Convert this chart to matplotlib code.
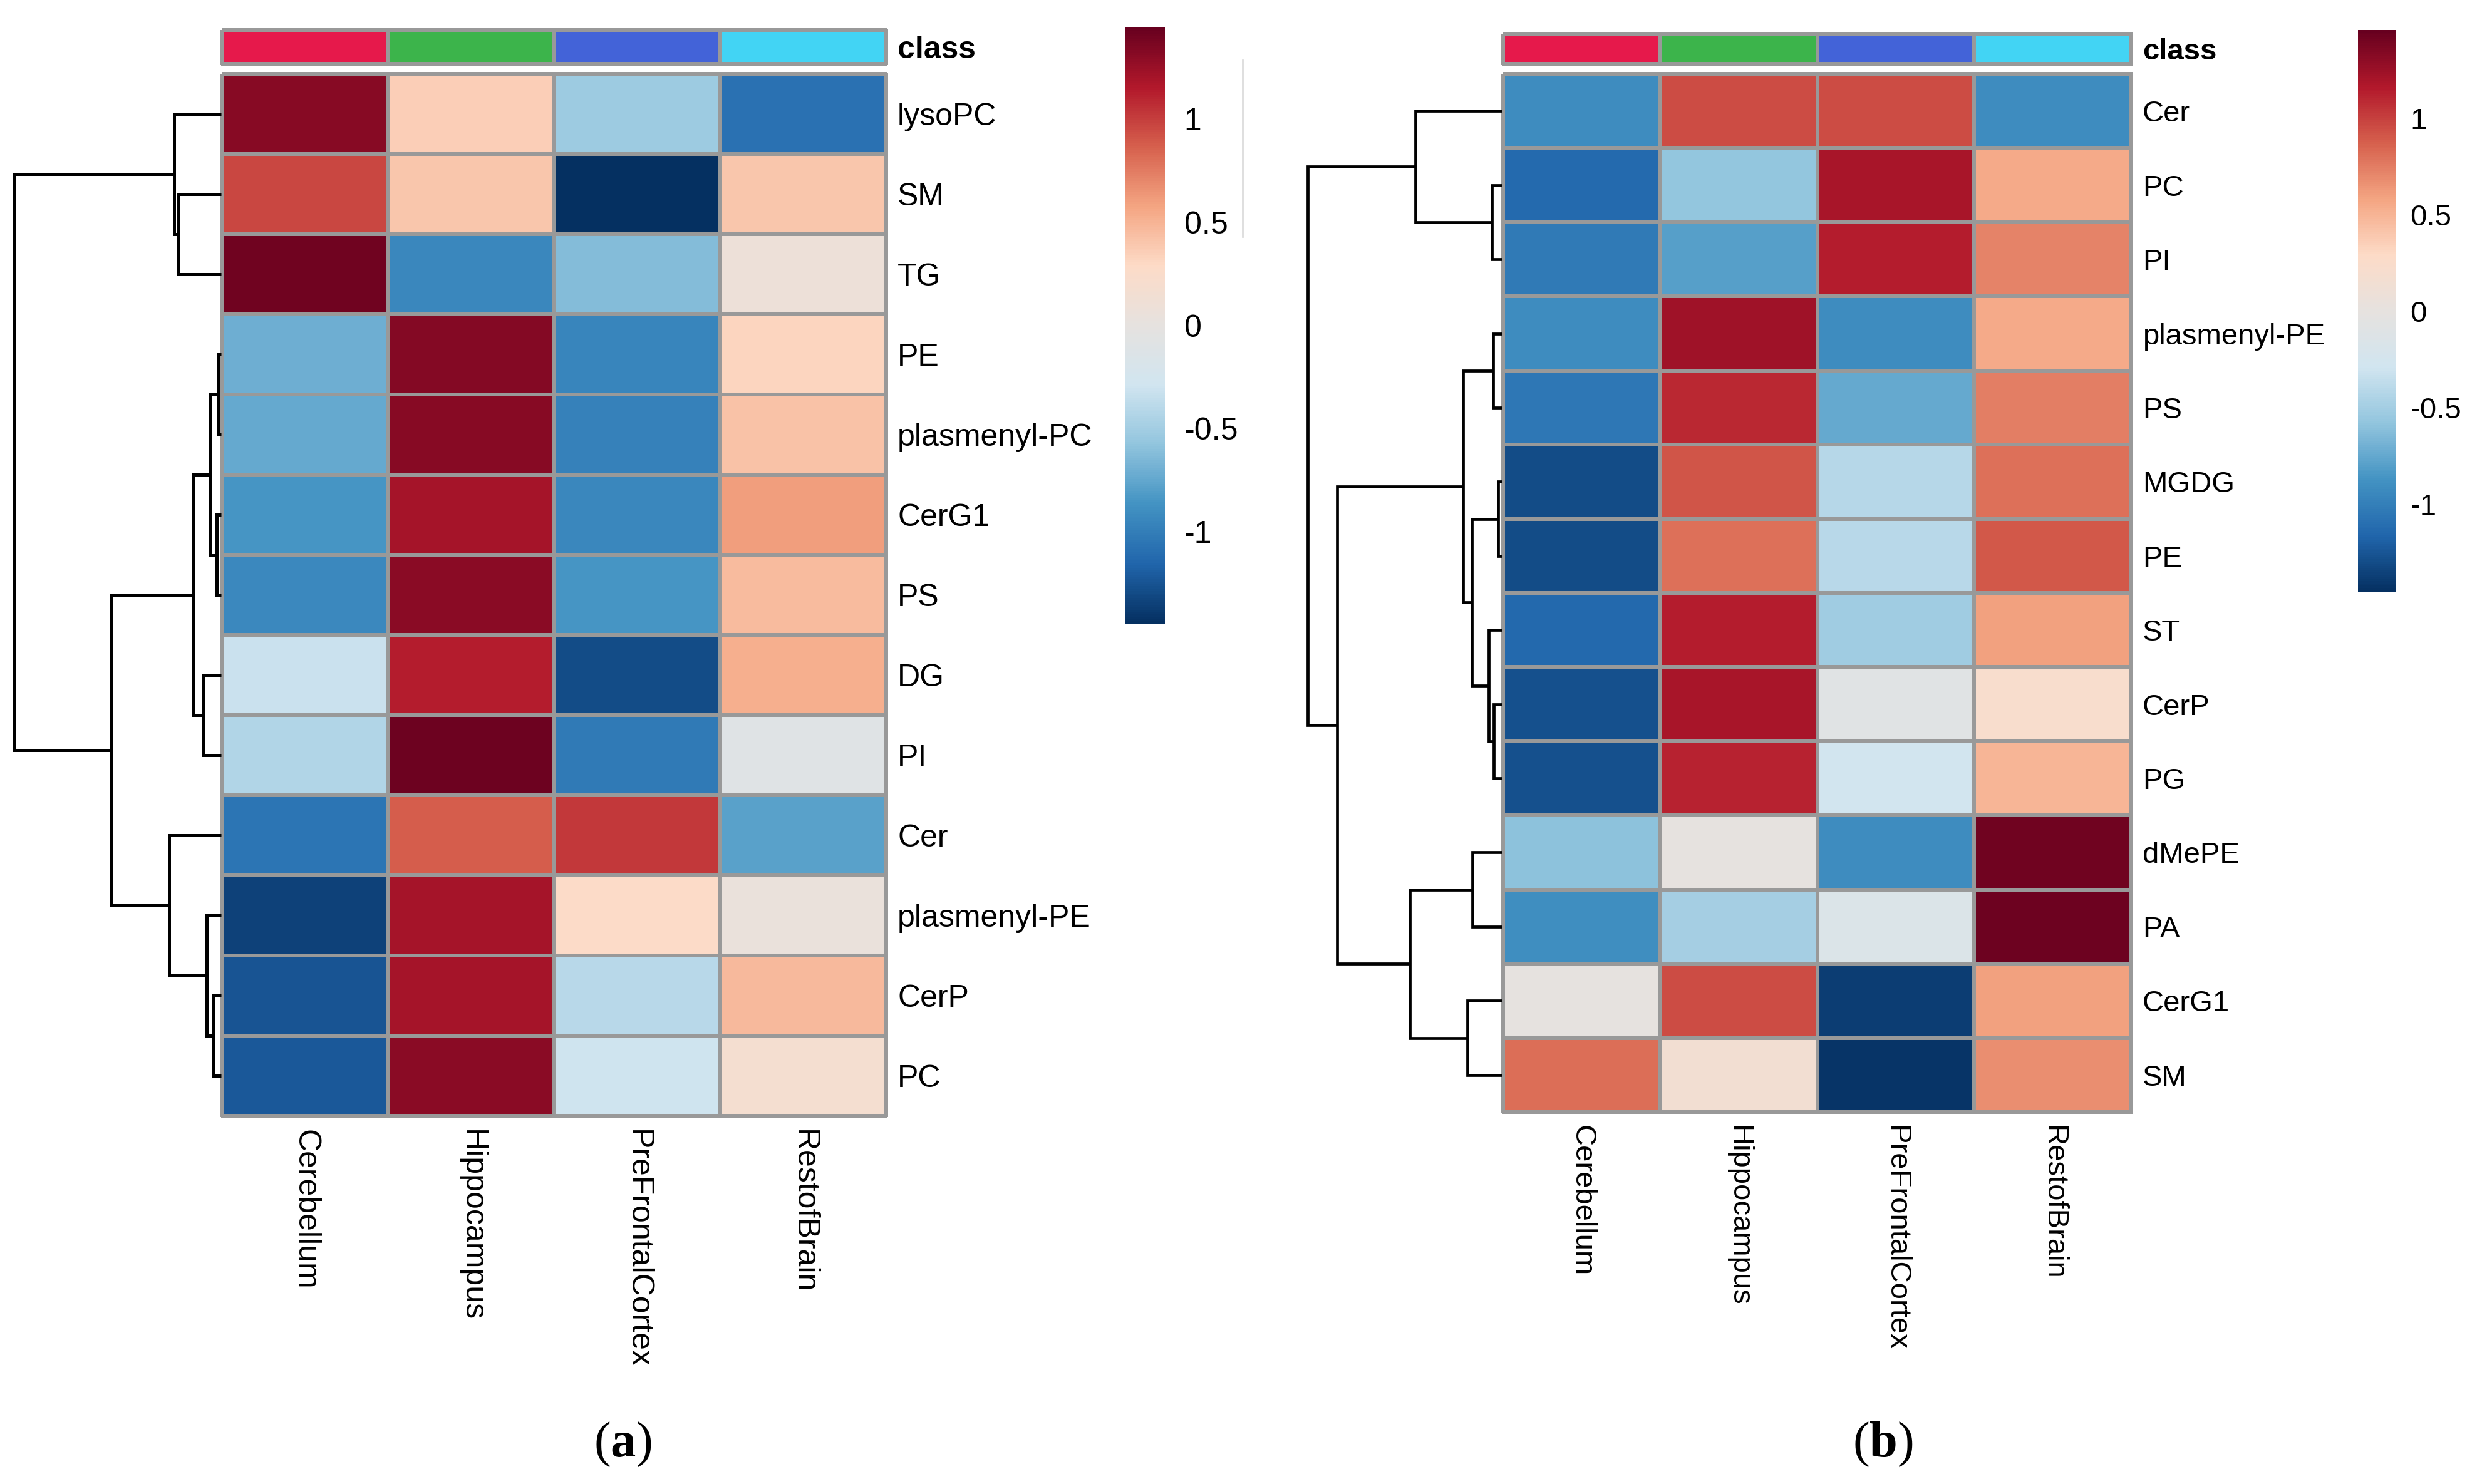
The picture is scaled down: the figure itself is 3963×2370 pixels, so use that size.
import numpy as np
import matplotlib
matplotlib.use("Agg")
import matplotlib.pyplot as plt
from matplotlib.colors import LinearSegmentedColormap, ListedColormap, Normalize
from matplotlib.cm import ScalarMappable
from matplotlib.lines import Line2D

plt.rcParams['font.family'] = ['Liberation Sans', 'DejaVu Sans']
plt.rcParams['axes.unicode_minus'] = False
plt.rcParams['mathtext.fontset'] = 'custom'
plt.rcParams['mathtext.rm'] = 'Liberation Serif'
plt.rcParams['mathtext.bf'] = 'Liberation Serif:bold'

# ---------------- data ----------------
regions = ["Cerebellum", "Hippocampus", "PreFrontalCortex", "RestofBrain"]
class_colors = ["#e6194b", "#3cb44b", "#4363d8", "#42d4f4"]

rows_a = ["lysoPC", "SM", "TG", "PE", "plasmenyl-PC", "CerG1", "PS", "DG",
          "PI", "Cer", "plasmenyl-PE", "CerP", "PC"]
values_a = [
    [1.31, 0.36, -0.53, -1.08],
    [0.96, 0.40, -1.44, 0.40],
    [1.41, -0.94, -0.63, 0.08],
    [-0.71, 1.33, -0.95, 0.32],
    [-0.74, 1.31, -0.98, 0.42],
    [-0.85, 1.20, -0.94, 0.60],
    [-0.93, 1.30, -0.85, 0.46],
    [-0.32, 1.14, -1.29, 0.52],
    [-0.43, 1.42, -1.02, -0.10],
    [-1.06, 0.87, 1.02, -0.79],
    [-1.35, 1.20, 0.28, 0.05],
    [-1.25, 1.20, -0.40, 0.47],
    [-1.22, 1.30, -0.30, 0.17],
]
# linkage: (child_a, child_b, height); leaves 0..12, clusters 13..
linkage_a = [
    (3, 4, 5), (5, 6, 7), (11, 12, 12), (13, 14, 17), (10, 15, 23),
    (7, 8, 28), (16, 18, 45), (1, 2, 69), (0, 20, 75), (9, 17, 83),
    (19, 22, 176), (21, 23, 330),
]
range_a = 1.445

rows_b = ["Cer", "PC", "PI", "plasmenyl-PE", "PS", "MGDG", "PE", "ST",
          "CerP", "PG", "dMePE", "PA", "CerG1", "SM"]
values_b = [
    [-0.92, 0.95, 0.95, -0.92],
    [-1.13, -0.58, 1.20, 0.55],
    [-1.03, -0.80, 1.14, 0.72],
    [-0.92, 1.24, -0.92, 0.55],
    [-1.05, 1.10, -0.75, 0.75],
    [-1.30, 0.92, -0.42, 0.80],
    [-1.30, 0.80, -0.40, 0.90],
    [-1.15, 1.15, -0.52, 0.60],
    [-1.28, 1.20, -0.08, 0.22],
    [-1.28, 1.12, -0.28, 0.50],
    [-0.60, 0.00, -0.92, 1.42],
    [-0.90, -0.50, -0.15, 1.43],
    [0.00, 0.95, -1.38, 0.60],
    [0.82, 0.15, -1.43, 0.68],
]
linkage_b = [
    (5, 6, 6), (8, 9, 13), (3, 4, 14), (1, 2, 16), (7, 15, 21),
    (10, 11, 47), (14, 18, 48), (12, 13, 55), (16, 20, 62), (0, 17, 138),
    (19, 21, 147), (22, 24, 263), (23, 25, 310),
]
range_b = 1.458

cbar_ticks = [-1, -0.5, 0, 0.5, 1]
cbar_labels = ["-1", "-0.5", "0", "0.5", "1"]
panel_tags = ["a", "b"]

# ---------------- style ----------------
cmap = LinearSegmentedColormap.from_list("rdbu_gray", [
    "#053061", "#2166ac", "#4393c3", "#92c5de", "#d1e5f0", "#e6e2df",
    "#fddbc7", "#f4a582", "#d6604d", "#b2182b", "#67001f"], N=256)
border = "#999999"

W, H = 3963, 2370
fig = plt.figure(figsize=(W / 100, H / 100), dpi=100)


def px_axes(x0, y0, x1, y1):
    return fig.add_axes([x0 / W, 1 - y1 / H, (x1 - x0) / W, (y1 - y0) / H])


def draw_panel(rows, values, linkage, vrange, L):
    vals = np.array(values)
    n, m = vals.shape
    norm = Normalize(-vrange, vrange)

    # heatmap
    ax = px_axes(L['hx0'], L['hy0'], L['hx1'], L['hy1'])
    mesh = ax.pcolormesh(np.arange(m + 1), np.arange(n + 1), vals, cmap=cmap,
                         norm=norm, edgecolors=border, linewidth=L['lw'])
    mesh.set_clip_on(False)
    ax.set_xlim(0, m)
    ax.set_ylim(n, 0)
    for s in ax.spines.values():
        s.set_visible(False)
    ax.yaxis.tick_right()
    ax.set_yticks(np.arange(n) + 0.5, rows)
    ax.set_xticks(np.arange(m) + 0.5, regions, rotation=270)
    ax.tick_params(axis='y', length=0, pad=L['ypad'], labelsize=L['fs'])
    ax.tick_params(axis='x', length=0, pad=L['xpad'], labelsize=L['fs'])

    # class annotation bar
    axc = px_axes(L['hx0'], L['cy0'], L['hx1'], L['cy1'])
    cm_cls = ListedColormap(class_colors)
    cmesh = axc.pcolormesh(np.arange(m + 1), [0, 1], np.arange(m)[None, :],
                           cmap=cm_cls, vmin=-0.5, vmax=m - 0.5,
                           edgecolors=border, linewidth=L['lw'])
    cmesh.set_clip_on(False)
    axc.set_xlim(0, m)
    axc.set_ylim(1, 0)
    for s in axc.spines.values():
        s.set_visible(False)
    axc.set_xticks([])
    axc.yaxis.tick_right()
    axc.set_yticks([0.5], ["class"])
    axc.tick_params(axis='y', length=0, pad=L['ypad'], labelsize=L['fs'])
    for t in axc.get_yticklabels():
        t.set_fontweight('bold')

    # dendrogram
    axd = px_axes(L['leaf'] - 340, L['hy0'], L['leaf'], L['hy1'])
    pos = {i: (0.0, i + 0.5) for i in range(n)}
    for k, (a, b, h) in enumerate(linkage):
        ha_, ya = pos[a]
        hb_, yb = pos[b]
        axd.plot([ha_, h, h, hb_], [ya, ya, yb, yb], color='black',
                 lw=L['dlw'], solid_capstyle='butt', solid_joinstyle='miter',
                 clip_on=False)
        pos[n + k] = (h, (ya + yb) / 2)
    axd.set_xlim(340, 0)
    axd.set_ylim(n, 0)
    axd.axis('off')

    # colorbar
    cax = px_axes(L['bx0'], L['by0'], L['bx1'], L['by1'])
    cb = fig.colorbar(ScalarMappable(norm=norm, cmap=cmap), cax=cax,
                      ticks=cbar_ticks)
    cb.set_ticklabels(cbar_labels)
    cb.outline.set_visible(False)
    cax.tick_params(length=0, pad=L['cpad'], labelsize=L['fs'])

    # panel tag
    fig.text(L['tagx'] / W, 1 - L['tagy'] / H,
             r'$(\mathbf{' + L['tag'] + r'})$', ha='center', va='center',
             fontsize=58)


layout_a = dict(hx0=355, hx1=1415, hy0=118, hy1=1782, cy0=48, cy1=102,
                leaf=353, bx0=1797, bx1=1860, by0=43, by1=996,
                fs=36, ypad=13, xpad=16, cpad=22, lw=4, dlw=3.6,
                tagx=994, tagy=2307, tag=panel_tags[0])
layout_b = dict(hx0=2400, hx1=3403, hy0=118, hy1=1776, cy0=54, cy1=102,
                leaf=2398, bx0=3765, bx1=3825, by0=48, by1=946,
                fs=34, ypad=13, xpad=15, cpad=17, lw=4, dlw=3.4,
                tagx=3006, tagy=2307, tag=panel_tags[1])

draw_panel(rows_a, values_a, linkage_a, range_a, layout_a)
draw_panel(rows_b, values_b, linkage_b, range_b, layout_b)

# faint stray rule next to the first legend
fig.add_artist(Line2D([1984 / W, 1984 / W], [1 - 96 / H, 1 - 378 / H],
                      color='#dcdcdc', lw=2))

fig.savefig("out.png", dpi=100)
